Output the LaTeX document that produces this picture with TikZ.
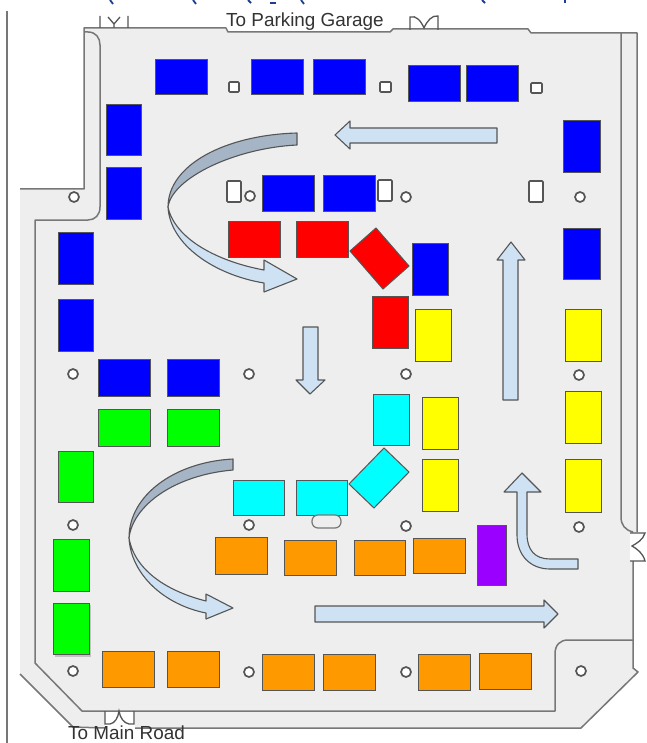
\documentclass[tikz,border=0pt]{standalone}
\usepackage{fontspec}
\setmainfont{Liberation Sans}
\definecolor{lotbg}{HTML}{EEEEEE}
\definecolor{linegray}{HTML}{777777}
\definecolor{edgegray}{HTML}{555555}
\definecolor{arrowlight}{HTML}{CFE2F3}
\definecolor{arrowdark}{HTML}{A5B5C5}
\definecolor{stallblue}{HTML}{0000FF}
\definecolor{stallred}{HTML}{FF0000}
\definecolor{stallyellow}{HTML}{FFFF00}
\definecolor{stallcyan}{HTML}{00FFFF}
\definecolor{stallgreen}{HTML}{00FF00}
\definecolor{stallorange}{HTML}{FF9900}
\definecolor{stallpurple}{HTML}{9900FF}
\definecolor{titleblue}{HTML}{1C3F94}
\tikzset{
  wall/.style={draw=linegray,line width=1.5pt,line join=round},
  doorline/.style={draw=edgegray,line width=1.3pt},
  stall/.style={draw=edgegray,line width=1pt},
  lamp/.style={draw=edgegray,fill=white,line width=1.7pt},
  flow/.style={draw=edgegray,fill=arrowlight,line width=1.1pt,line join=round},
  flowback/.style={draw=edgegray,fill=arrowdark,line width=1.1pt,line join=round},
  titlefrag/.style={draw=titleblue,line width=1.8pt},
  lbl/.style={inner sep=0pt,text=black!80,font=\fontsize{18.9}{20}\selectfont}
}
\newcommand{\stallbox}[5]{\draw[stall,fill=#1] (#2,#3) rectangle (#4,#5);}
\newcommand{\lampat}[2]{\draw[lamp] (#1,#2) circle (5);}
\begin{document}
\begin{tikzpicture}[x=1pt,y=-1pt]
\useasboundingbox (0,0) rectangle (646,743);
\fill[white] (0,0) rectangle (646,743);
% clipped title fragments
\draw[titlefrag] (110,0) -- (113,4);
\draw[titlefrag] (193,0) -- (196,4);
\draw[titlefrag] (248,0) -- (251,3);
\draw[titlefrag] (270,3) -- (276,3);
\draw[titlefrag] (301,0) -- (304,4);
\draw[titlefrag] (482,0) -- (485,3);
\draw[titlefrag] (565,0) -- (565,3);
% far left line
\draw[draw=linegray,line width=1.2pt] (7,11) -- (7,743);
% lot
\fill[lotbg] (20,189) -- (84,189) -- (84,28) -- (226,28) -- (228,32) -- (390,32) -- (393,29) -- (528,29) -- (531,33) -- (637,33) -- (637,532) -- (633,532) -- (633,668) -- (638,672) -- (581,728) -- (73,728) -- (20,674) -- cycle;
\draw[wall] (20,189) -- (84,189) -- (84,28) -- (226,28) -- (228,32) -- (390,32) -- (393,29) -- (528,29) -- (531,33) -- (637,33) -- (637,532);
\draw[wall] (633,561) -- (633,668) -- (638,672) -- (581,728) -- (135,728);
\draw[wall] (105,728) -- (73,727) -- (20,674);
% inner line
\draw[wall] (84,32) -- (88,32) .. controls (96,32) and (100,38) .. (100,45) -- (100,207) .. controls (100,215) and (95,220) .. (88,220) -- (35,220) -- (35,663) -- (82,711) -- (555,711) -- (555,654) .. controls (555,645) and (560,640) .. (568,640) -- (633,640);
\draw[wall] (621,33) -- (621,517) .. controls (621,525) and (625,530) .. (633,532);
% doors
\draw[doorline] (100,16) -- (100,28) (128,16) -- (128,28) (108,17) -- (114,24) -- (120,17) (114,24) -- (114,28);
\draw[doorline] (410,30) -- (410,17) .. controls (416,15) and (421,21) .. (424,28) .. controls (427,21) and (432,15) .. (438,16) -- (438,30);
\fill[white] (630,533) rectangle (646,561);
\draw[doorline] (630,533) -- (645,533) .. controls (643,540) and (637,543) .. (632,546) .. controls (637,549) and (643,553) .. (645,561) -- (630,561);
\fill[white] (105,712) rectangle (135,728);
\draw[doorline] (105,711) -- (105,724) -- (110,724) .. controls (115,723) and (118,718) .. (119,711) .. controls (120,718) and (124,723) .. (129,724) -- (134,724) -- (134,711);
% blue
\stallbox{stallblue}{155}{60}{207}{95}
\stallbox{stallblue}{251}{60}{303}{95}
\stallbox{stallblue}{313}{60}{365}{95}
\stallbox{stallblue}{408}{66}{460}{102}
\stallbox{stallblue}{466}{66}{518}{102}
\stallbox{stallblue}{563}{121}{600}{173}
\stallbox{stallblue}{563}{228}{600}{279}
\stallbox{stallblue}{106}{105}{141}{156}
\stallbox{stallblue}{106}{168}{141}{219}
\stallbox{stallblue}{58}{232}{93}{284}
\stallbox{stallblue}{58}{299}{93}{351}
\stallbox{stallblue}{262}{176}{314}{212}
\stallbox{stallblue}{323}{176}{375}{212}
\stallbox{stallblue}{412}{243}{448}{295}
\stallbox{stallblue}{98}{359}{150}{396}
\stallbox{stallblue}{167}{359}{219}{396}
% red
\stallbox{stallred}{228}{221}{280}{257}
\stallbox{stallred}{296}{221}{348}{257}
\draw[stall,fill=stallred] (376,228) -- (409,266) -- (383,289) -- (350,251) -- cycle;
\stallbox{stallred}{372}{296}{408}{348}
% yellow
\stallbox{stallyellow}{415}{309}{451}{361}
\stallbox{stallyellow}{422}{397}{458}{449}
\stallbox{stallyellow}{422}{459}{458}{511}
\stallbox{stallyellow}{565}{309}{601}{361}
\stallbox{stallyellow}{565}{391}{601}{443}
\stallbox{stallyellow}{565}{459}{601}{512}
% cyan
\stallbox{stallcyan}{373}{394}{409}{445}
\stallbox{stallcyan}{233}{480}{284}{515}
\stallbox{stallcyan}{296}{480}{347}{515}
\draw[stall,fill=stallcyan] (384,448) -- (409,472) -- (374,508) -- (349,484) -- cycle;
% green
\stallbox{stallgreen}{98}{409}{150}{446}
\stallbox{stallgreen}{167}{409}{219}{446}
\stallbox{stallgreen}{58}{451}{93}{502}
\stallbox{stallgreen}{53}{539}{89}{591}
\fill[black,opacity=0.18] (55,605) rectangle (91,657);
\stallbox{stallgreen}{53}{603}{89}{654}
% orange
\stallbox{stallorange}{215}{537}{267}{574}
\stallbox{stallorange}{284}{540}{336}{575}
\stallbox{stallorange}{354}{540}{405}{575}
\stallbox{stallorange}{413}{538}{465}{573}
\stallbox{stallorange}{102}{651}{154}{687}
\stallbox{stallorange}{167}{651}{219}{687}
\stallbox{stallorange}{262}{654}{314}{690}
\stallbox{stallorange}{323}{654}{375}{690}
\stallbox{stallorange}{418}{654}{470}{690}
\stallbox{stallorange}{479}{653}{531}{689}
% purple
\stallbox{stallpurple}{477}{525}{506}{585}
% lamps
\lampat{74}{197}\lampat{250}{196}\lampat{406}{197}\lampat{580}{197}
\lampat{73}{374}\lampat{249}{374}\lampat{406}{374}\lampat{579}{375}
\lampat{73}{525}\lampat{249}{525}\lampat{406}{526}\lampat{579}{527}
\lampat{73}{671}\lampat{249}{672}\lampat{406}{672}\lampat{581}{671}
% small boxes
\draw[lamp,rounded corners=1pt] (229,82) rectangle (239,92);
\draw[lamp,rounded corners=1pt] (380,82) rectangle (391,92);
\draw[lamp,rounded corners=1pt] (531,83) rectangle (542,93);
\draw[lamp,rounded corners=1pt] (227,181) rectangle (241,202);
\draw[lamp,rounded corners=1pt] (378,180) rectangle (392,201);
\draw[lamp,rounded corners=1pt] (529,181) rectangle (543,202);
\draw[draw=linegray,fill=lotbg,line width=1.2pt,rounded corners=6pt] (312,515) rectangle (341,528);
% straight arrows
\draw[flow] (335,135) -- (350,121) -- (350,128) -- (497,128) -- (497,143) -- (350,143) -- (350,149) -- cycle;
\draw[flow] (303,327) -- (318,327) -- (318,380) -- (325,380) -- (310,394) -- (296,380) -- (303,380) -- cycle;
\draw[flow] (511,242) -- (525,260) -- (518,260) -- (518,400) -- (503,400) -- (503,260) -- (497,260) -- cycle;
\draw[flow] (315,606) -- (544,606) -- (544,600) -- (558,614) -- (544,628) -- (544,622) -- (315,622) -- cycle;
% bent arrow
\draw[flow] (522,473) -- (541,492) -- (527,492) -- (527,534) .. controls (527,550) and (535,559) .. (550,559) -- (578,559) -- (578,569) -- (550,569) .. controls (530,569) and (517,555) .. (517,535) -- (517,492) -- (504,492) -- cycle;
% curved arrow upper
\draw[flow] (168,207) .. controls (170,245) and (215,275) .. (264,283) -- (264,292) -- (297,279) -- (264,260) -- (264,270) .. controls (220,262) and (175,240) .. (168,207) -- cycle;
\draw[flowback] (297,133) .. controls (225,135) and (168,165) .. (168,207) .. controls (172,178) and (235,148) .. (297,145) -- cycle;
% curved arrow lower
\draw[flow] (129,538) .. controls (131,575) and (165,605) .. (206,613) -- (206,619) -- (233,608) -- (206,594) -- (206,601) .. controls (170,592) and (135,572) .. (129,538) -- cycle;
\draw[flowback] (233,459) .. controls (175,462) and (129,495) .. (129,538) .. controls (133,505) and (175,475) .. (233,470) -- cycle;
% labels
\node[lbl,anchor=base west] (parking) at (226,27) {To Parking Garage};
\node[lbl,anchor=base west] (mainroad) at (68,739.5) {To Main Road};
\end{tikzpicture}
\end{document}
